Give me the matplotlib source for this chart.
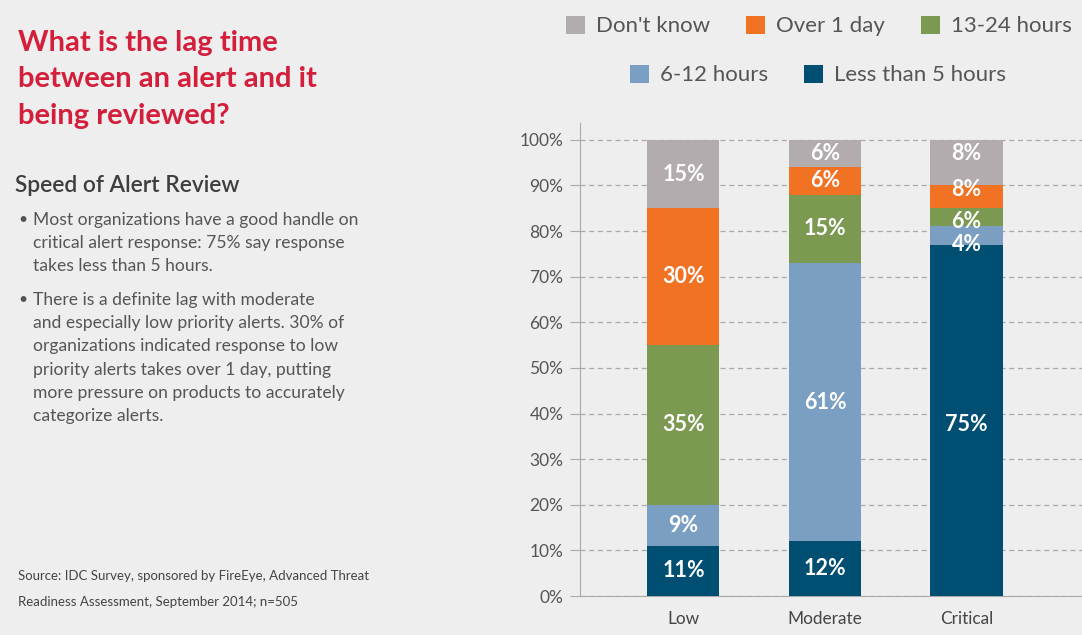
import numpy as np
import matplotlib.pyplot as plt

plt.rcParams['font.family'] = ['Lato', 'DejaVu Sans']

categories = ['Low', 'Moderate', 'Critical']
series = ["Don't know", 'Over 1 day', '13-24 hours', '6-12 hours', 'Less than 5 hours']
colors = ['#b2acaf', '#f07222', '#7b9951', '#7a9fc2', '#004e72']

# bar segment heights as drawn, bottom to top
# (the critical bar in the original is drawn a bit off from its printed numbers)
less_5h = [11, 12, 77]
h6_12 = [9, 61, 4]
h13_24 = [35, 15, 4]
over_1day = [30, 6, 5]
dont_know = [15, 6, 10]
# printed percentages, their labels sit at these stacked positions
pct_less_5h = [11, 12, 75]
pct_h6_12 = [9, 61, 4]
pct_h13_24 = [35, 15, 6]
pct_over_1day = [30, 6, 8]
pct_dont_know = [15, 6, 8]

yticks = [0, 10, 20, 30, 40, 50, 60, 70, 80, 90, 100]

fig = plt.figure(figsize=(10.82, 6.35), dpi=100, facecolor='#eeeeee')
ax = fig.add_axes([580 / 1082, 0.0614, 502 / 1082, 0.745])
ax.set_facecolor('none')

x = np.arange(len(categories))
stack = [(less_5h, pct_less_5h, 4), (h6_12, pct_h6_12, 3), (h13_24, pct_h13_24, 2),
         (over_1day, pct_over_1day, 1), (dont_know, pct_dont_know, 0)]
bottom = np.zeros(len(categories))
lbl_bottom = np.zeros(len(categories))
bars = {}
for vals, pcts, idx in stack:
    vals = np.array(vals, dtype=float)
    pcts = np.array(pcts, dtype=float)
    b = ax.bar(x, vals, 0.509, bottom=bottom, color=colors[idx], label=series[idx], zorder=3)
    bars[idx] = b
    for xi, p, lb in zip(x, pcts, lbl_bottom):
        ax.text(xi, lb + p / 2, f'{p:.0f}%', ha='center', va='center', color='white',
                fontsize=15.5, fontweight='bold', zorder=4)
    bottom += vals
    lbl_bottom += pcts

ax.set_xlim(-0.731, 2.816)
ax.set_ylim(0, 103.7)
ax.set_yticks(yticks)
ax.set_yticklabels([f'{t}%' for t in yticks])
ax.set_xticks(x)
ax.set_xticklabels(categories)
ax.yaxis.grid(True, linestyle=(0, (4, 3)), color='#aaaaaa', linewidth=0.9, zorder=1)
for s in ['top', 'right']:
    ax.spines[s].set_visible(False)
for s in ['left', 'bottom']:
    ax.spines[s].set_color('#aaaaaa')
ax.tick_params(axis='y', length=7, color='#aaaaaa', pad=5, labelsize=12.5, labelcolor='#555555')
ax.tick_params(axis='x', length=0, pad=11, labelsize=12.4, labelcolor='#444444')

# legend in two centred rows
leg_kw = dict(frameon=False, fontsize=16, handlelength=0.86, handleheight=0.86,
              handletextpad=0.5, columnspacing=1.6, labelcolor='#555555')
leg1 = fig.legend([bars[0], bars[1], bars[2]], series[0:3], ncol=3, loc='center',
                  bbox_to_anchor=(819 / 1082, 1 - 26 / 635), **leg_kw)
leg2 = fig.legend([bars[3], bars[4]], series[3:5], ncol=2, loc='center',
                  bbox_to_anchor=(818 / 1082, 1 - 75 / 635), **leg_kw)

# left text block
fig.text(18 / 1082, 1 - 30 / 635, 'What is the lag time\nbetween an alert and it\nbeing reviewed?',
         ha='left', va='top', fontsize=21, fontweight='bold', color='#d31f3b', linespacing=1.49)
fig.text(15 / 1082, 1 - 186 / 635, 'Speed of Alert Review', ha='left', va='center',
         fontsize=16.4, fontweight='semibold', color='#3e3e3e')

bullets = [
    ['Most organizations have a good handle on',
     'critical alert response: 75% say response',
     'takes less than 5 hours.'],
    ['There is a definite lag with moderate',
     'and especially low priority alerts. 30% of',
     'organizations indicated response to low',
     'priority alerts takes over 1 day, putting',
     'more pressure on products to accurately',
     'categorize alerts.'],
]
starts = [220, 300]
for lines, y0 in zip(bullets, starts):
    fig.text(18 / 1082, 1 - y0 / 635, '•', ha='left', va='center', fontsize=11.5, color='#555555')
    for i, line in enumerate(lines):
        fig.text(33 / 1082, 1 - (y0 + i * 23.2) / 635, line, ha='left', va='center',
                 fontsize=12.6, color='#555555')

fig.text(18 / 1082, 1 - 576 / 635, 'Source: IDC Survey, sponsored by FireEye, Advanced Threat',
         ha='left', va='center', fontsize=9.5, color='#444444')
fig.text(18 / 1082, 1 - 602 / 635, 'Readiness Assessment, September 2014; n=505',
         ha='left', va='center', fontsize=9.5, color='#444444')

fig.savefig('out.png', dpi=100, facecolor=fig.get_facecolor())
